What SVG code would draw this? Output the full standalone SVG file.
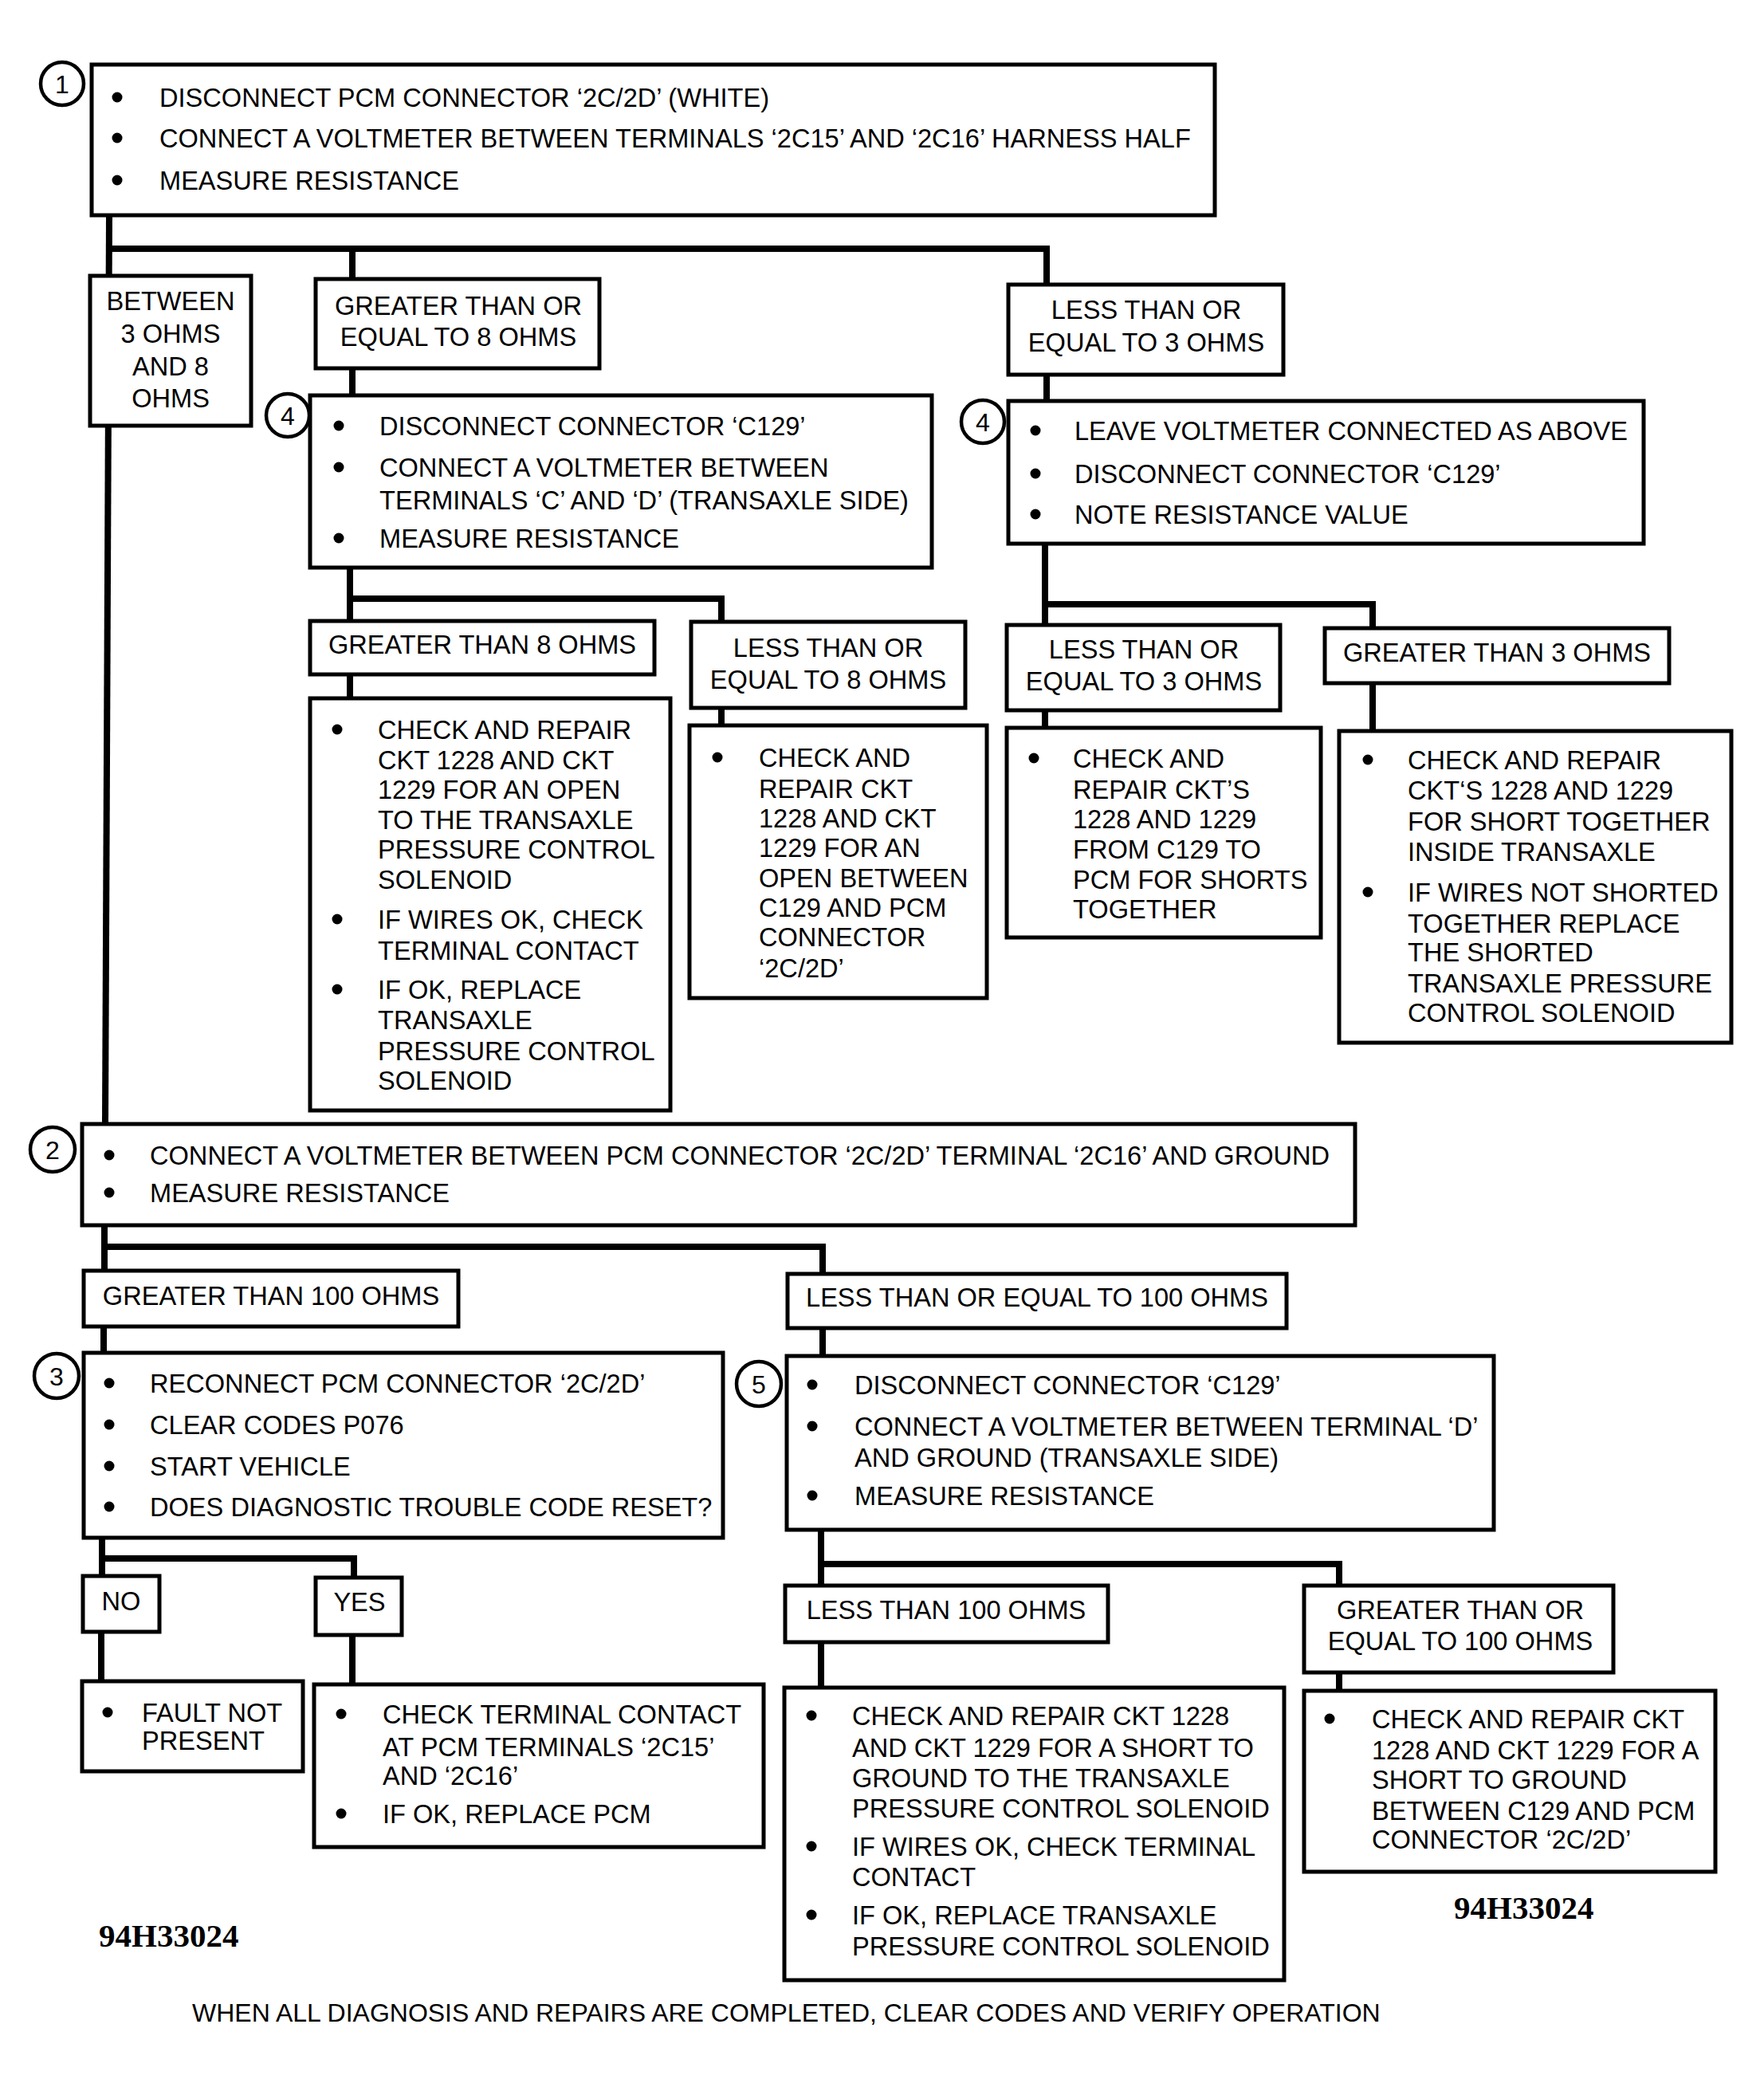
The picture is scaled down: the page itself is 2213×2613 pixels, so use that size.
<svg xmlns="http://www.w3.org/2000/svg" width="2213" height="2613" viewBox="0 0 2213 2613">
<style>
.box{fill:#fff;stroke:#000;stroke-width:5}
.conn{fill:none;stroke:#000;stroke-width:8;stroke-linejoin:miter}
text{font-family:"Liberation Sans",Arial,sans-serif;font-size:32.6px;fill:#000}
.c{text-anchor:middle}
.b{fill:#000}
.num{fill:#fff;stroke:#000;stroke-width:4.5}
.nt{font-size:32px;text-anchor:middle}
.id{font-family:"Liberation Serif","Times New Roman",serif;font-weight:bold;font-size:41px}
.foot{font-size:32px}
</style>
<rect width="2213" height="2613" fill="#fff"/>
<g id="connectors">
<path class="conn" d="M137 270 L132 1410"/>
<path class="conn" d="M134 312 H1313 V357"/>
<path class="conn" d="M442 312 V350"/>
<path class="conn" d="M442 462 V496"/>
<path class="conn" d="M1313 470 V503"/>
<path class="conn" d="M439 712 V779"/>
<path class="conn" d="M439 751 H905 V780"/>
<path class="conn" d="M439 846 V876"/>
<path class="conn" d="M905 888 V910"/>
<path class="conn" d="M1311 682 V784"/>
<path class="conn" d="M1311 758 H1722 V788"/>
<path class="conn" d="M1311 891 V913"/>
<path class="conn" d="M1722 857 V917"/>
<path class="conn" d="M131 1537 V1594"/>
<path class="conn" d="M131 1564 H1032 V1598"/>
<path class="conn" d="M130 1664 V1697"/>
<path class="conn" d="M1032 1666 V1701"/>
<path class="conn" d="M128 1929 V1977"/>
<path class="conn" d="M128 1955 H444 V1979"/>
<path class="conn" d="M127 2047 V2109"/>
<path class="conn" d="M442 2051 V2113"/>
<path class="conn" d="M1030 1919 V1989"/>
<path class="conn" d="M1030 1962 H1680 V1989"/>
<path class="conn" d="M1030 2060 V2117"/>
<path class="conn" d="M1680 2098 V2121"/>
</g>
<g id="step1">
<rect class="box" x="115" y="81" width="1409" height="189"/>
<circle class="num" cx="78" cy="105" r="27"/>
<text class="nt" x="78" y="117">1</text>
<circle class="b" cx="147" cy="122" r="6.5"/><text x="200" y="134">DISCONNECT PCM CONNECTOR ‘2C/2D’ (WHITE)</text>
<circle class="b" cx="147" cy="173" r="6.5"/><text x="200" y="185">CONNECT A VOLTMETER BETWEEN TERMINALS ‘2C15’ AND ‘2C16’ HARNESS HALF</text>
<circle class="b" cx="147" cy="226" r="6.5"/><text x="200" y="238">MEASURE RESISTANCE</text>
</g>
<g id="between3and8">
<rect class="box" x="113" y="346" width="202" height="188"/>
<text class="c" x="214" y="389">BETWEEN</text>
<text class="c" x="214" y="430">3 OHMS</text>
<text class="c" x="214" y="471">AND 8</text>
<text class="c" x="214" y="511">OHMS</text>
</g>
<g id="gte8">
<rect class="box" x="396" y="350" width="356" height="112"/>
<text class="c" x="575" y="395">GREATER THAN OR</text>
<text class="c" x="575" y="434">EQUAL TO 8 OHMS</text>
</g>
<g id="lte3top">
<rect class="box" x="1265" y="357" width="345" height="113"/>
<text class="c" x="1438" y="400">LESS THAN OR</text>
<text class="c" x="1438" y="441">EQUAL TO 3 OHMS</text>
</g>
<g id="step4a">
<rect class="box" x="389" y="496" width="780" height="216"/>
<circle class="num" cx="361" cy="521" r="27"/>
<text class="nt" x="361" y="533">4</text>
<circle class="b" cx="425" cy="534" r="6.5"/><text x="476" y="546">DISCONNECT CONNECTOR ‘C129’</text>
<circle class="b" cx="425" cy="586" r="6.5"/><text x="476" y="598">CONNECT A VOLTMETER BETWEEN</text>
<text x="476" y="639">TERMINALS ‘C’ AND ‘D’ (TRANSAXLE SIDE)</text>
<circle class="b" cx="425" cy="675" r="6.5"/><text x="476" y="687">MEASURE RESISTANCE</text>
</g>
<g id="step4b">
<rect class="box" x="1265" y="503" width="797" height="179"/>
<circle class="num" cx="1233" cy="529" r="27"/>
<text class="nt" x="1233" y="541">4</text>
<circle class="b" cx="1299" cy="540" r="6.5"/><text x="1348" y="552">LEAVE VOLTMETER CONNECTED AS ABOVE</text>
<circle class="b" cx="1299" cy="594" r="6.5"/><text x="1348" y="606">DISCONNECT CONNECTOR ‘C129’</text>
<circle class="b" cx="1299" cy="645" r="6.5"/><text x="1348" y="657">NOTE RESISTANCE VALUE</text>
</g>
<g id="gt8">
<rect class="box" x="389" y="779" width="432" height="67"/>
<text class="c" x="605" y="820">GREATER THAN 8 OHMS</text>
</g>
<g id="gt8result">
<rect class="box" x="389" y="876" width="452" height="517"/>
<circle class="b" cx="423" cy="915" r="6.5"/><text x="474" y="927">CHECK AND REPAIR</text>
<text x="474" y="965">CKT 1228 AND CKT</text>
<text x="474" y="1002">1229 FOR AN OPEN</text>
<text x="474" y="1040">TO THE TRANSAXLE</text>
<text x="474" y="1077">PRESSURE CONTROL</text>
<text x="474" y="1115">SOLENOID</text>
<circle class="b" cx="423" cy="1153" r="6.5"/><text x="474" y="1165">IF WIRES OK, CHECK</text>
<text x="474" y="1204">TERMINAL CONTACT</text>
<circle class="b" cx="423" cy="1241" r="6.5"/><text x="474" y="1253">IF OK, REPLACE</text>
<text x="474" y="1291">TRANSAXLE</text>
<text x="474" y="1330">PRESSURE CONTROL</text>
<text x="474" y="1367">SOLENOID</text>
</g>
<g id="lte8">
<rect class="box" x="867" y="780" width="344" height="108"/>
<text class="c" x="1039" y="824">LESS THAN OR</text>
<text class="c" x="1039" y="864">EQUAL TO 8 OHMS</text>
</g>
<g id="lte8result">
<rect class="box" x="865" y="910" width="373" height="342"/>
<circle class="b" cx="900" cy="950" r="6.5"/><text x="952" y="962">CHECK AND</text>
<text x="952" y="1001">REPAIR CKT</text>
<text x="952" y="1038">1228 AND CKT</text>
<text x="952" y="1075">1229 FOR AN</text>
<text x="952" y="1113">OPEN BETWEEN</text>
<text x="952" y="1150">C129 AND PCM</text>
<text x="952" y="1187">CONNECTOR</text>
<text x="952" y="1226">‘2C/2D’</text>
</g>
<g id="lte3">
<rect class="box" x="1263" y="784" width="343" height="107"/>
<text class="c" x="1435" y="826">LESS THAN OR</text>
<text class="c" x="1435" y="866">EQUAL TO 3 OHMS</text>
</g>
<g id="lte3result">
<rect class="box" x="1263" y="913" width="394" height="263"/>
<circle class="b" cx="1297" cy="951" r="6.5"/><text x="1346" y="963">CHECK AND</text>
<text x="1346" y="1002">REPAIR CKT’S</text>
<text x="1346" y="1039">1228 AND 1229</text>
<text x="1346" y="1077">FROM C129 TO</text>
<text x="1346" y="1115">PCM FOR SHORTS</text>
<text x="1346" y="1152">TOGETHER</text>
</g>
<g id="gt3">
<rect class="box" x="1662" y="788" width="432" height="69"/>
<text class="c" x="1878" y="830">GREATER THAN 3 OHMS</text>
</g>
<g id="gt3result">
<rect class="box" x="1680" y="917" width="492" height="391"/>
<circle class="b" cx="1716" cy="953" r="6.5"/><text x="1766" y="965">CHECK AND REPAIR</text>
<text x="1766" y="1003">CKT‘S 1228 AND 1229</text>
<text x="1766" y="1042">FOR SHORT TOGETHER</text>
<text x="1766" y="1080">INSIDE TRANSAXLE</text>
<circle class="b" cx="1716" cy="1119" r="6.5"/><text x="1766" y="1131">IF WIRES NOT SHORTED</text>
<text x="1766" y="1170">TOGETHER REPLACE</text>
<text x="1766" y="1206">THE SHORTED</text>
<text x="1766" y="1245">TRANSAXLE PRESSURE</text>
<text x="1766" y="1282">CONTROL SOLENOID</text>
</g>
<g id="step2">
<rect class="box" x="103" y="1410" width="1597" height="127"/>
<circle class="num" cx="66" cy="1442" r="28"/>
<text class="nt" x="66" y="1454">2</text>
<circle class="b" cx="137" cy="1449" r="6.5"/><text x="188" y="1461">CONNECT A VOLTMETER BETWEEN PCM CONNECTOR ‘2C/2D’ TERMINAL ‘2C16’ AND GROUND</text>
<circle class="b" cx="137" cy="1496" r="6.5"/><text x="188" y="1508">MEASURE RESISTANCE</text>
</g>
<g id="gt100">
<rect class="box" x="105" y="1594" width="470" height="70"/>
<text class="c" x="340" y="1637">GREATER THAN 100 OHMS</text>
</g>
<g id="lte100">
<rect class="box" x="988" y="1598" width="626" height="68"/>
<text class="c" x="1301" y="1639">LESS THAN OR EQUAL TO 100 OHMS</text>
</g>
<g id="step3">
<rect class="box" x="105" y="1697" width="802" height="232"/>
<circle class="num" cx="71" cy="1726" r="28"/>
<text class="nt" x="71" y="1738">3</text>
<circle class="b" cx="137" cy="1735" r="6.5"/><text x="188" y="1747">RECONNECT PCM CONNECTOR ‘2C/2D’</text>
<circle class="b" cx="137" cy="1787" r="6.5"/><text x="188" y="1799">CLEAR CODES P076</text>
<circle class="b" cx="137" cy="1839" r="6.5"/><text x="188" y="1851">START VEHICLE</text>
<circle class="b" cx="137" cy="1890" r="6.5"/><text x="188" y="1902">DOES DIAGNOSTIC TROUBLE CODE RESET?</text>
</g>
<g id="step5">
<rect class="box" x="987" y="1701" width="887" height="218"/>
<circle class="num" cx="952" cy="1736" r="28"/>
<text class="nt" x="952" y="1748">5</text>
<circle class="b" cx="1019" cy="1737" r="6.5"/><text x="1072" y="1749">DISCONNECT CONNECTOR ‘C129’</text>
<circle class="b" cx="1019" cy="1789" r="6.5"/><text x="1072" y="1801">CONNECT A VOLTMETER BETWEEN TERMINAL ‘D’</text>
<text x="1072" y="1840">AND GROUND (TRANSAXLE SIDE)</text>
<circle class="b" cx="1019" cy="1876" r="6.5"/><text x="1072" y="1888">MEASURE RESISTANCE</text>
</g>
<g id="no">
<rect class="box" x="104" y="1977" width="96" height="70"/>
<text class="c" x="152" y="2020">NO</text>
</g>
<g id="yes">
<rect class="box" x="396" y="1979" width="108" height="72"/>
<text class="c" x="451" y="2021">YES</text>
</g>
<g id="faultnot">
<rect class="box" x="103" y="2109" width="277" height="113"/>
<circle class="b" cx="135" cy="2148" r="6.5"/><text x="178" y="2160">FAULT NOT</text>
<text x="178" y="2195">PRESENT</text>
</g>
<g id="yesresult">
<rect class="box" x="394" y="2113" width="564" height="204"/>
<circle class="b" cx="428" cy="2150" r="6.5"/><text x="480" y="2162">CHECK TERMINAL CONTACT</text>
<text x="480" y="2203">AT PCM TERMINALS ‘2C15’</text>
<text x="480" y="2239">AND ‘2C16’</text>
<circle class="b" cx="428" cy="2275" r="6.5"/><text x="480" y="2287">IF OK, REPLACE PCM</text>
</g>
<g id="lt100">
<rect class="box" x="985" y="1989" width="405" height="71"/>
<text class="c" x="1187" y="2031">LESS THAN 100 OHMS</text>
</g>
<g id="lt100result">
<rect class="box" x="984" y="2117" width="627" height="367"/>
<circle class="b" cx="1018" cy="2152" r="6.5"/><text x="1069" y="2164">CHECK AND REPAIR CKT 1228</text>
<text x="1069" y="2204">AND CKT 1229 FOR A SHORT TO</text>
<text x="1069" y="2242">GROUND TO THE TRANSAXLE</text>
<text x="1069" y="2280">PRESSURE CONTROL SOLENOID</text>
<circle class="b" cx="1018" cy="2316" r="6.5"/><text x="1069" y="2328">IF WIRES OK, CHECK TERMINAL</text>
<text x="1069" y="2366">CONTACT</text>
<circle class="b" cx="1018" cy="2402" r="6.5"/><text x="1069" y="2414">IF OK, REPLACE TRANSAXLE</text>
<text x="1069" y="2453">PRESSURE CONTROL SOLENOID</text>
</g>
<g id="gte100">
<rect class="box" x="1636" y="1989" width="388" height="109"/>
<text class="c" x="1832" y="2031">GREATER THAN OR</text>
<text class="c" x="1832" y="2070">EQUAL TO 100 OHMS</text>
</g>
<g id="gte100result">
<rect class="box" x="1636" y="2121" width="516" height="227"/>
<circle class="b" cx="1668" cy="2156" r="6.5"/><text x="1721" y="2168">CHECK AND REPAIR CKT</text>
<text x="1721" y="2207">1228 AND CKT 1229 FOR A</text>
<text x="1721" y="2244">SHORT TO GROUND</text>
<text x="1721" y="2283">BETWEEN C129 AND PCM</text>
<text x="1721" y="2319">CONNECTOR ‘2C/2D’</text>
</g>
<g id="labels">
<text class="id" x="124" y="2442">94H33024</text>
<text class="id" x="1824" y="2407">94H33024</text>
<text class="foot" x="241" y="2536">WHEN ALL DIAGNOSIS AND REPAIRS ARE COMPLETED, CLEAR CODES AND VERIFY OPERATION</text>
</g>
</svg>
